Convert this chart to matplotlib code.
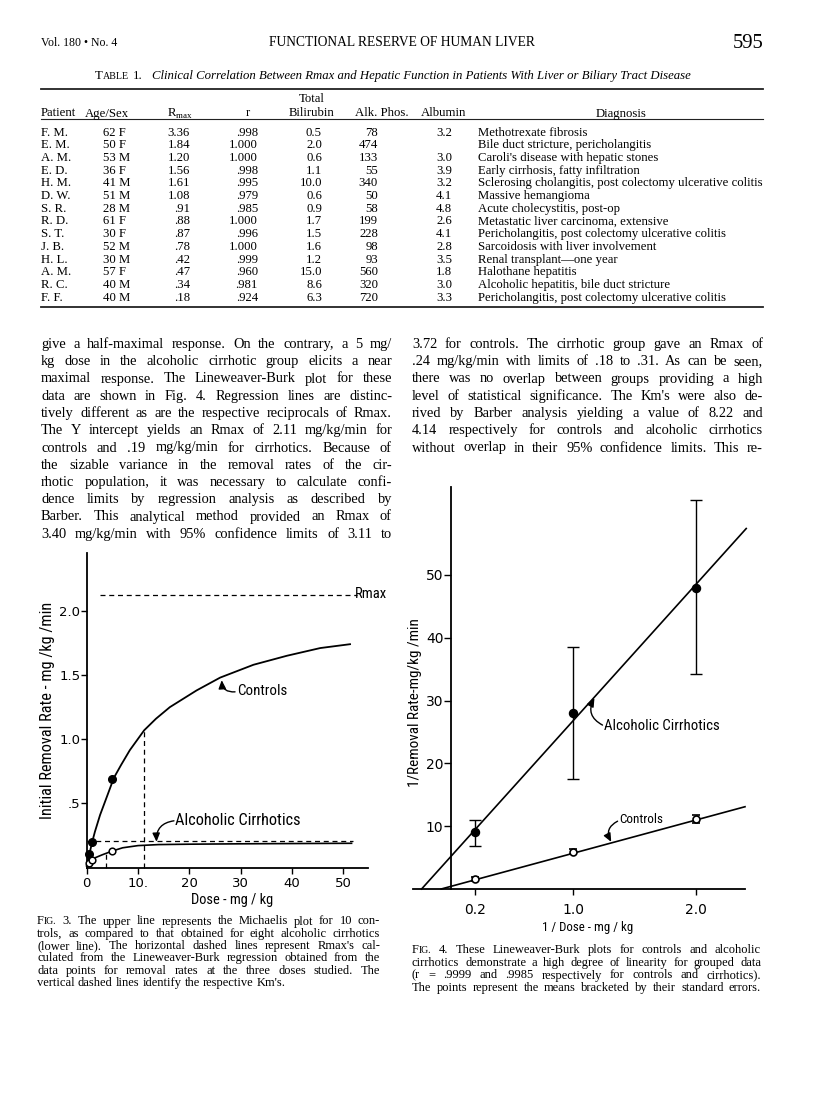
import matplotlib
matplotlib.use("Agg")
import matplotlib.pyplot as plt
from matplotlib.lines import Line2D

# === Table 1 data ===
patients = ["F. M.", "E. M.", "A. M.", "E. D.", "H. M.", "D. W.", "S. R.",
            "R. D.", "S. T.", "J. B.", "H. L.", "A. M.", "R. C.", "F. F."]
age_sex = ["62 F", "50 F", "53 M", "36 F", "41 M", "51 M", "28 M",
           "61 F", "30 F", "52 M", "30 M", "57 F", "40 M", "40 M"]
rmax = [3.36, 1.84, 1.20, 1.56, 1.61, 1.08, .91, .88, .87, .78, .42, .47, .34, .18]
r_corr = [.998, 1.000, 1.000, .998, .995, .979, .985, 1.000, .996, 1.000, .999, .960, .981, .924]
bilirubin = [0.5, 2.0, 0.6, 1.1, 10.0, 0.6, 0.9, 1.7, 1.5, 1.6, 1.2, 15.0, 8.6, 6.3]
alk_phos = [78, 474, 133, 55, 340, 50, 58, 199, 228, 98, 93, 560, 320, 720]
albumin = [3.2, None, 3.0, 3.9, 3.2, 4.1, 4.8, 2.6, 4.1, 2.8, 3.5, 1.8, 3.0, 3.3]
diagnosis = ["Methotrexate fibrosis",
             "Bile duct stricture, pericholangitis",
             "Caroli's disease with hepatic stones",
             "Early cirrhosis, fatty infiltration",
             "Sclerosing cholangitis, post colectomy ulcerative colitis",
             "Massive hemangioma",
             "Acute cholecystitis, post-op",
             "Metastatic liver carcinoma, extensive",
             "Pericholangitis, post colectomy ulcerative colitis",
             "Sarcoidosis with liver involvement",
             "Renal transplant\u2014one year",
             "Halothane hepatitis",
             "Alcoholic hepatitis, bile duct stricture",
             "Pericholangitis, post colectomy ulcerative colitis"]

# === Fig. 3 data (Michaelis plot) ===
f3_ctrl_dose = [0, 0.5, 1.0, 1.6, 2.6, 4.0, 5.3, 6.7, 8.4, 11.2, 13.5, 16.2,
                21.4, 26.0, 32.5, 39.0, 45.5, 51.3]
f3_ctrl_rate = [0.02, 0.10, 0.19, 0.28, 0.41, 0.56, 0.70, 0.80, 0.915, 1.07, 1.16,
                1.25, 1.38, 1.48, 1.58, 1.65, 1.71, 1.74]
f3_cirr_dose = [0, 0.5, 1.5, 3.0, 5.0, 7.0, 10, 14, 20, 30, 40, 51.6]
f3_cirr_rate = [0.01, 0.045, 0.075, 0.10, 0.13, 0.155, 0.172, 0.18, 0.183, 0.186, 0.188, 0.19]
f3_doses = [0.5, 1, 5]
f3_ctrl_pts = [0.11, 0.20, 0.69]
f3_cirr_pts = [0.04, 0.06, 0.13]
f3_ctrl_rmax, f3_cirr_rmax = 2.12, 0.21
f3_ctrl_km, f3_cirr_km = 11.2, 3.8
f3_ctrl_half, f3_cirr_half = 1.07, 0.11

# === Fig. 4 data (Lineweaver-Burk) ===
inv_dose = [0.2, 1.0, 2.0]
cirr_inv = [9.0, 28.1, 48.0]
cirr_lo = [6.85, 17.5, 34.2]
cirr_hi = [11.0, 38.6, 61.9]
ctrl_inv = [1.6, 5.9, 11.1]
ctrl_lo = [1.3, 5.5, 10.5]
ctrl_hi = [1.9, 6.4, 11.8]
cirr_line_x, cirr_line_y = [-0.24, 2.41], [0, 57.4]
ctrl_line_x, ctrl_line_y = [-0.08, 2.40], [0, 13.1]

# === Page text ===
left_col = [
    "give a half-maximal response. On the contrary, a 5 mg/",
    "kg dose in the alcoholic cirrhotic group elicits a near",
    "maximal response. The Lineweaver-Burk plot for these",
    "data are shown in Fig. 4. Regression lines are distinc-",
    "tively different as are the respective reciprocals of Rmax.",
    "The Y intercept yields an Rmax of 2.11 mg/kg/min for",
    "controls and .19 mg/kg/min for cirrhotics. Because of",
    "the sizable variance in the removal rates of the cir-",
    "rhotic population, it was necessary to calculate confi-",
    "dence limits by regression analysis as described by",
    "Barber. This analytical method provided an Rmax of",
    "3.40 mg/kg/min with 95% confidence limits of 3.11 to",
]
right_col = [
    "3.72 for controls. The cirrhotic group gave an Rmax of",
    ".24 mg/kg/min with limits of .18 to .31. As can be seen,",
    "there was no overlap between groups providing a high",
    "level of statistical significance. The Km's were also de-",
    "rived by Barber analysis yielding a value of 8.22 and",
    "4.14 respectively for controls and alcoholic cirrhotics",
    "without overlap in their 95% confidence limits. This re-",
]
cap3 = [
    "FIG. 3. The upper line represents the Michaelis plot for 10 con-",
    "trols, as compared to that obtained for eight alcoholic cirrhotics",
    "(lower line). The horizontal dashed lines represent Rmax's cal-",
    "culated from the Lineweaver-Burk regression obtained from the",
    "data points for removal rates at the three doses studied. The",
    "vertical dashed lines identify the respective Km's.",
]
cap4 = [
    "FIG. 4. These Lineweaver-Burk plots for controls and alcoholic",
    "cirrhotics demonstrate a high degree of linearity for grouped data",
    "(r = .9999 and .9985 respectively for controls and cirrhotics).",
    "The points represent the means bracketed by their standard errors.",
]

# === Page setup ===
W, H = 816, 1101
fig = plt.figure(figsize=(W / 100, H / 100), dpi=100)
renderer = fig.canvas.get_renderer()
SERIF = "Liberation Serif"
SANS = ["Roboto Condensed", "Lato", "DejaVu Sans"]
plt.rcParams["mathtext.fontset"] = "custom"
plt.rcParams["mathtext.rm"] = SERIF


def fx(x):
    return x / W


def fy(y):
    return 1 - y / H


def text_width(s, size, **kw):
    t = fig.text(0, 0, s, fontsize=size, **kw)
    w = t.get_window_extent(renderer).width
    t.remove()
    return w


def fit_size(s, width, base=10, **kw):
    return base * width / text_width(s, base, **kw)


def justify(line, x0, x1, y, size, fill=True, family=SERIF):
    words = line.split(" ")
    groups, widths = [], []
    for w in words:
        pieces = [("F", size), ("IG.", size * 0.78)] if w == "FIG." else [(w, size)]
        grp, tot = [], 0
        for s, sz in pieces:
            t = fig.text(0, fy(y), s, fontsize=sz, family=family, va="baseline", ha="left")
            wd = t.get_window_extent(renderer).width
            grp.append((t, wd))
            tot += wd
        groups.append(grp)
        widths.append(tot)
    if fill and len(words) > 1:
        gap = (x1 - x0 - sum(widths)) / (len(words) - 1)
    else:
        gap = text_width("a a", size, family=family) - text_width("aa", size, family=family)
    x = x0
    for grp in groups:
        for t, wd in grp:
            t.set_x(fx(x))
            x += wd
        x += gap


def column(lines, x0, x1, y0, step, base, last_fill=True):
    widest = max(text_width(l, 10, family=SERIF) for l in lines)
    size = min(base, 10 * (x1 - x0) * 0.975 / widest)
    for i, l in enumerate(lines):
        fill = last_fill or i < len(lines) - 1
        justify(l, x0, x1, y0 + i * step, size, fill=fill)


# === Running head ===
s = fit_size("Vol. 180 \u2022 No. 4", 76, family=SERIF)
fig.text(fx(41), fy(43), "Vol. 180 \u2022 No. 4", fontsize=s, family=SERIF, va="center")
s = fit_size("FUNCTIONAL RESERVE OF HUMAN LIVER", 268, family=SERIF)
fig.text(fx(402), fy(43), "FUNCTIONAL RESERVE OF HUMAN LIVER", fontsize=s,
         family=SERIF, ha="center", va="center")
s = fit_size("595", 31, family=SERIF)
fig.text(fx(763), fy(43), "595", fontsize=s, family=SERIF, ha="right", va="center")

# === Table caption ===
cap_it = "Clinical Correlation Between Rmax and Hepatic Function in Patients With Liver or Biliary Tract Disease"
tot = (text_width("T", 10, family=SERIF) + text_width("ABLE", 7.8, family=SERIF)
       + text_width("1.", 10, family=SERIF) + text_width(cap_it, 10, family=SERIF, style="italic") + 18)
cs = 10 * 603 / tot
x = 95
for txt, sz, st, gap in [("T", cs, "normal", 0), ("ABLE", cs * 0.78, "normal", 3.5),
                         ("1.", cs, "normal", 10), (cap_it, cs, "italic", 0)]:
    t = fig.text(fx(x), fy(79), txt, fontsize=sz, family=SERIF, style=st, va="baseline")
    x += t.get_window_extent(renderer).width + gap

# === Table ===
for yy, lw in [(89, 1.3), (119, 0.8), (307, 1.3)]:
    fig.add_artist(Line2D([fx(41), fx(763)], [fy(yy), fy(yy)], transform=fig.transFigure,
                          color="#222222", lw=lw))
ts = fit_size(diagnosis[4], 285, family=SERIF)
hb = 116.5
fig.text(fx(41), fy(hb), "Patient", fontsize=ts, family=SERIF, va="baseline")
fig.text(fx(85), fy(hb), "Age/Sex", fontsize=ts, family=SERIF, va="baseline")
fig.text(fx(180), fy(hb), r"R$_{\rm max}$", fontsize=ts, family=SERIF, ha="center", va="baseline")
fig.text(fx(248), fy(hb), "r", fontsize=ts, family=SERIF, ha="center", va="baseline")
fig.text(fx(312), fy(hb - 14), "Total", fontsize=ts, family=SERIF, ha="center", va="baseline")
fig.text(fx(312), fy(hb), "Bilirubin", fontsize=ts, family=SERIF, ha="center", va="baseline")
fig.text(fx(382), fy(hb), "Alk. Phos.", fontsize=ts, family=SERIF, ha="center", va="baseline")
fig.text(fx(444), fy(hb), "Albumin", fontsize=ts, family=SERIF, ha="center", va="baseline")
fig.text(fx(621), fy(hb), "Diagnosis", fontsize=ts, family=SERIF, ha="center", va="baseline")


def nolead(v, d):
    s = f"{v:.{d}f}"
    return s[1:] if s.startswith("0.") else s


for i in range(len(patients)):
    yb = fy(132 + i * 12.7 + 3.6)
    kw = dict(fontsize=ts, family=SERIF, va="baseline")
    fig.text(fx(41), yb, patients[i], **kw)
    fig.text(fx(103), yb, age_sex[i], **kw)
    fig.text(fx(190), yb, nolead(rmax[i], 2), ha="right", **kw)
    fig.text(fx(258), yb, nolead(r_corr[i], 3), ha="right", **kw)
    fig.text(fx(322), yb, f"{bilirubin[i]:.1f}", ha="right", **kw)
    fig.text(fx(378), yb, str(alk_phos[i]), ha="right", **kw)
    if albumin[i] is not None:
        fig.text(fx(452), yb, f"{albumin[i]:.1f}", ha="right", **kw)
    fig.text(fx(478), yb, diagnosis[i], **kw)

# === Body text ===
column(left_col, 41, 392, 348, 17.25, 10.4)
column(right_col, 412, 763, 348, 17.25, 10.4)

# === Fig. 3 ===
ax3 = fig.add_axes([fx(86.7), fy(867.7), (368 - 86.7) / W, (867.7 - 553) / H])
ax3.patch.set_alpha(0)
ax3.set_xlim(0, 54.8)
ax3.set_ylim(0, 2.45)
for sp in ["top", "right"]:
    ax3.spines[sp].set_visible(False)
for sp in ["left", "bottom"]:
    ax3.spines[sp].set_linewidth(1.3)
ax3.set_xticks([0, 10, 20, 30, 40, 50], ["0", "10.", "20", "30", "40", "50"])
ax3.set_yticks([0.5, 1.0, 1.5, 2.0], [".5", "1.0", "1.5", "2.0"])
ax3.tick_params(axis="x", direction="out", length=4, width=1, pad=3, labelsize=9.5)
ax3.tick_params(axis="y", direction="out", length=4, width=1, pad=0.5, labelsize=9.5)

ax3.plot(f3_ctrl_dose, f3_ctrl_rate, color="black", lw=1.3, clip_on=False)
ax3.plot(f3_cirr_dose, f3_cirr_rate, color="black", lw=1.2, clip_on=False)
dash = dict(color="black", lw=0.9, ls=(0, (4, 3)), clip_on=False)
ax3.plot([2.6, 52.7], [f3_ctrl_rmax, f3_ctrl_rmax], **dash)
ax3.plot([0, 51.8], [f3_cirr_rmax, f3_cirr_rmax], **dash)
ax3.plot([f3_ctrl_km, f3_ctrl_km], [0, f3_ctrl_half], **dash)
ax3.plot([f3_cirr_km, f3_cirr_km], [0, f3_cirr_half], **dash)
ax3.plot(f3_doses, f3_ctrl_pts, "o", color="black", ms=5.5, clip_on=False, zorder=4)
ax3.plot(f3_doses, f3_cirr_pts, "o", mfc="white", mec="black", mew=1.1, ms=4.8,
         clip_on=False, zorder=4)

lab_ctrl = fit_size("Controls", 50, family=SANS)
lab_cirr = fit_size("Alcoholic Cirrhotics", 125, family=SANS)
ax3.text(52.3, 2.13, "Rmax", fontsize=fit_size("Rmax", 32, family=SANS), family=SANS,
         va="center", ha="left")
ax3.text(29.3, 1.376, "Controls", fontsize=lab_ctrl, family=SANS, va="center")
ax3.text(17.2, 0.371, "Alcoholic Cirrhotics", fontsize=lab_cirr, family=SANS, va="center")
arrow = dict(arrowstyle="-|>,head_length=0.5,head_width=0.22", color="black", lw=1,
             shrinkA=0, shrinkB=0, mutation_scale=10)
ax3.annotate("", xy=(26.3, 1.46), xytext=(28.9, 1.369),
             arrowprops=dict(connectionstyle="arc3,rad=-0.5", **arrow))
ax3.annotate("", xy=(13.6, 0.202), xytext=(17.0, 0.365),
             arrowprops=dict(connectionstyle="arc3,rad=0.45", **arrow))

fig.text(fx(48), fy(710), "Initial Removal Rate - mg /kg /min", rotation=90,
         fontsize=fit_size("Initial Removal Rate - mg /kg /min", 216, family=SANS),
         family=SANS, ha="center", va="center")
fig.text(fx(232), fy(900), "Dose - mg / kg",
         fontsize=fit_size("Dose - mg / kg", 82, family=SANS),
         family=SANS, ha="center", va="center")

# === Fig. 4 ===
ax4 = fig.add_axes([fx(413), fy(889), (745 - 413) / W, (889 - 486.7) / H])
ax4.patch.set_alpha(0)
ax4.set_xlim(-0.31, 2.40)
ax4.set_ylim(0, 64.06)
for sp in ["top", "right"]:
    ax4.spines[sp].set_visible(False)
ax4.spines["left"].set_position(("data", 0))
for sp in ["left", "bottom"]:
    ax4.spines[sp].set_linewidth(1.3)
ax4.set_xticks(inv_dose, ["0.2", "1.0", "2.0"])
ax4.set_yticks([10, 20, 30, 40, 50], ["10", "20", "30", "40", "50"])
ax4.tick_params(axis="x", direction="out", length=4, width=1, pad=6, labelsize=10)
ax4.tick_params(axis="y", direction="out", length=5, width=1, pad=0.5, labelsize=10)

ax4.plot(cirr_line_x, cirr_line_y, color="black", lw=1.2, clip_on=False)
ax4.plot(ctrl_line_x, ctrl_line_y, color="black", lw=1.2, clip_on=False)
ax4.errorbar(inv_dose, cirr_inv,
             yerr=[[c - l for c, l in zip(cirr_inv, cirr_lo)],
                   [h - c for c, h in zip(cirr_inv, cirr_hi)]],
             fmt="o", color="black", ms=5.8, elinewidth=1, capsize=4.5, capthick=1,
             clip_on=False, zorder=4)
ax4.errorbar(inv_dose, ctrl_inv,
             yerr=[[c - l for c, l in zip(ctrl_inv, ctrl_lo)],
                   [h - c for c, h in zip(ctrl_inv, ctrl_hi)]],
             fmt="o", mfc="white", mec="black", mew=1.2, ecolor="black", ms=5,
             elinewidth=1, capsize=3, capthick=1, clip_on=False, zorder=4)

ax4.text(1.253, 26.0, "Alcoholic Cirrhotics",
         fontsize=fit_size("Alcoholic Cirrhotics", 115, family=SANS), family=SANS, va="center")
ax4.text(1.376, 11.0, "Controls",
         fontsize=fit_size("Controls", 44, family=SANS), family=SANS, va="center")
ax4.annotate("", xy=(1.171, 30.4), xytext=(1.237, 26.1),
             arrowprops=dict(connectionstyle="arc3,rad=-0.5", **arrow))
ax4.annotate("", xy=(1.308, 7.5), xytext=(1.36, 10.8),
             arrowprops=dict(connectionstyle="arc3,rad=0.5", **arrow))

fig.text(fx(415), fy(703), "1/Removal Rate-mg/kg /min", rotation=90,
         fontsize=fit_size("1/Removal Rate-mg/kg /min", 167, family=SANS),
         family=SANS, ha="center", va="center")
fig.text(fx(588), fy(927), "1 / Dose - mg / kg",
         fontsize=fit_size("1 / Dose - mg / kg", 90, family=SANS),
         family=SANS, ha="center", va="center")

# === Figure captions ===
column(cap3, 37, 380, 924.5, 12.3, 9.0, last_fill=False)
column(cap4, 412, 761, 953, 12.75, 9.0)

fig.savefig("out.png", dpi=100)
